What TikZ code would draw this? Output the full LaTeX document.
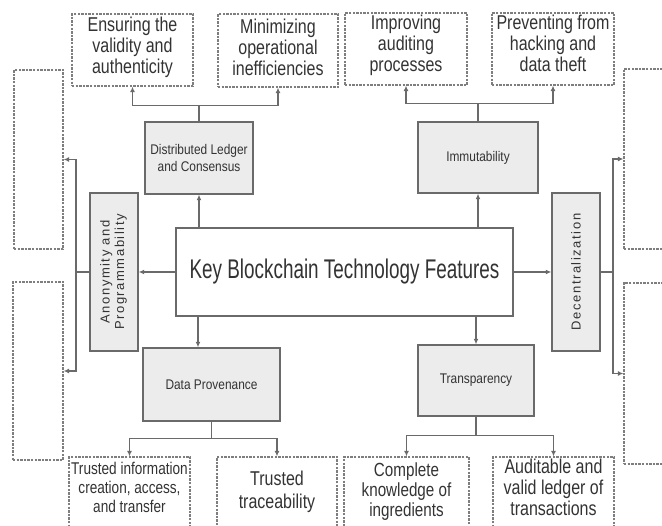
\documentclass[tikz,border=0pt]{standalone}
\usepackage{fontspec}
\setmainfont{Liberation Sans}
\newfontfamily\narA[FakeStretch=0.8]{Liberation Sans}
\newfontfamily\narB[FakeStretch=0.7]{Liberation Sans}
\newfontfamily\narC[FakeStretch=0.85]{Liberation Sans}
\newfontfamily\spacedf[LetterSpace=12]{Liberation Sans}
\newcommand\myvfont{\spacedf\fontsize{13}{14.5}\selectfont}
\usetikzlibrary{arrows.meta}
\definecolor{linec}{HTML}{6A6A6A}
\definecolor{dashc}{HTML}{7E7E7E}
\definecolor{fillc}{HTML}{ECECEC}
\definecolor{txtc}{HTML}{333333}
\tikzset{
  feat/.style={draw=linec, line width=1.4pt, fill=fillc, inner sep=0pt, text=txtc,
    font=\narC\fontsize{14}{17}\selectfont, align=center},
  keybox/.style={draw=linec, line width=1.4pt, fill=white, inner sep=0pt, text=txtc,
    font=\narB\fontsize{27}{30}\selectfont},
  dbox/.style={draw=dashc, line width=1.2pt, dash pattern=on 2.4pt off 1.2pt, inner sep=0pt},
  dtext/.style={anchor=north, inner sep=0pt, text=txtc, align=center,
    font=\narA\fontsize{20}{21}\selectfont},
  conn/.style={draw=linec, line width=1.3pt},
  arr/.style={conn, -{Latex[length=5.5pt,width=5pt]}}
}
\begin{document}
\begin{tikzpicture}[x=1pt,y=-1pt]
\clip (0,0) rectangle (662,526);
\useasboundingbox (0,0) rectangle (662,526);

% central
\node[keybox, minimum width=337pt, minimum height=88pt] (key) at (344.5,272) {Key Blockchain Technology Features};

% features
\node[feat, minimum width=108pt, minimum height=72pt] (dl) at (199,158) {Distributed Ledger\\and Consensus};
\node[feat, minimum width=120pt, minimum height=71pt] (imm) at (478,157.5) {Immutability};
\node[feat, minimum width=48pt, minimum height=158pt] (anon) at (114,272)
  {\rotatebox{90}{\myvfont\begin{tabular}{@{}c@{}}Anonymity and\\Programmability\end{tabular}}};
\node[feat, minimum width=48pt, minimum height=158pt] (dec) at (576,272)
  {\rotatebox{90}{\myvfont Decentralization}};
\node[feat, minimum width=137pt, minimum height=73pt] (dp) at (211.5,384.5) {Data Provenance};
\node[feat, minimum width=116pt, minimum height=71pt] (tr) at (476,380.5) {Transparency};

% dashed outcome boxes
\node[dbox, minimum width=121pt, minimum height=72pt] (ens) at (132.5,50) {};
\node[dtext] (ensT) at (132.5,17) {Ensuring the\\validity and\\authenticity};
\node[dbox, minimum width=120pt, minimum height=73pt] (min) at (278,50.5) {};
\node[dtext] (minT) at (278,19) {Minimizing\\operational\\inefficiencies};
\node[dbox, minimum width=122pt, minimum height=72pt] (imp) at (406,49) {};
\node[dtext] (impT) at (406,15) {Improving\\auditing\\processes};
\node[dbox, minimum width=122pt, minimum height=72pt] (prev) at (553,49) {};
\node[dtext] (prevT) at (553,15) {Preventing from\\hacking and\\data theft};

\node[dbox, minimum width=49pt, minimum height=179pt] (lt) at (38.5,159.5) {};
\node[dbox, minimum width=50pt, minimum height=178pt] (lb) at (38,371) {};
\node[dbox, minimum width=50pt, minimum height=180pt] (rt) at (649,159) {};
\node[dbox, minimum width=50pt, minimum height=181pt] (rb) at (649,373.5) {};

\node[dbox, minimum width=121pt, minimum height=90pt] (ti) at (129.5,502) {};
\node[dtext, font=\narA\fontsize{17}{19}\selectfont] (tiT) at (129.5,462) {Trusted information\\creation, access,\\and transfer};
\node[dbox, minimum width=120pt, minimum height=90pt] (tt) at (277,502) {};
\node[dtext, font=\narA\fontsize{20}{22.5}\selectfont] (ttT) at (277,471) {Trusted\\traceability};
\node[dbox, minimum width=125pt, minimum height=90pt] (ck) at (406.5,502) {};
\node[dtext, font=\narA\fontsize{19}{20}\selectfont] (ckT) at (406.5,463) {Complete\\knowledge of\\ingredients};
\node[dbox, minimum width=121pt, minimum height=90pt] (au) at (553.5,502) {};
\node[dtext] (auT) at (553.5,459) {Auditable and\\valid ledger of\\transactions};

% connectors from central box
\draw[arr] (dl.south |- key.north) -- (dl.south);
\draw[arr] (imm.south |- key.north) -- (imm.south);
\draw[arr] (key.west) -- (anon.east);
\draw[arr] (key.east) -- (dec.west);
\coordinate (dpin) at ([xshift=-13.5pt]dp.north);
\draw[arr] (dpin |- key.south) -- (dpin);
\draw[arr] (tr.north |- key.south) -- (tr.north);

% branches
\draw[conn] (dl.north) -- ++(0,-16) coordinate (dlj);
\draw[arr] (dlj) -| (ens.south);
\draw[arr] (dlj) -| (min.south);

\draw[conn] (imm.north) -- ++(0,-18) coordinate (imj);
\draw[arr] (imj) -| (imp.south);
\draw[arr] (imj) -| (prev.south);

\coordinate (aj) at (76,272);
\draw[conn] (anon.west) -- (aj);
\draw[arr] (aj) |- (lt.east);
\draw[arr] (aj) |- (lb.east);

\coordinate (dj) at (613,272);
\draw[conn] (dec.east) -- (dj);
\draw[arr] (dj) |- (rt.west);
\draw[arr] (dj) |- (rb.west);

\draw[conn] (dp.south) -- ++(0,17) coordinate (dpj);
\draw[arr] (dpj) -| (ti.north);
\draw[arr] (dpj) -| (tt.north);

\draw[conn] (tr.south) -- ++(0,19) coordinate (trj);
\draw[arr] (trj) -| (ck.north);
\draw[arr] (trj) -| (au.north);
\end{tikzpicture}
\end{document}
